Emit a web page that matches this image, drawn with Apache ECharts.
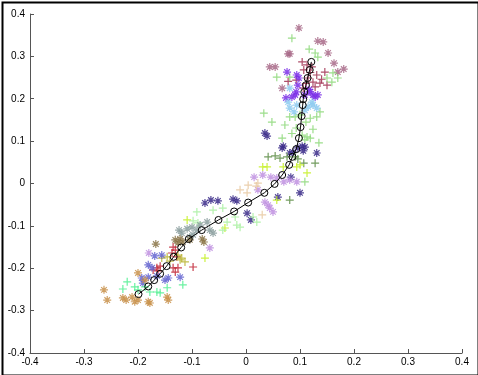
<!DOCTYPE html>
<html>
<head>
<meta charset="utf-8">
<script src="https://cdn.jsdelivr.net/npm/echarts@6/dist/echarts.min.js"></script>
<style>
html,body{margin:0;padding:0;background:#fff;}
#chart{width:478px;height:375px;}
</style>
</head>
<body>
<div id="chart"></div>
<script>
// axis ticks
const tickValues = [-0.4, -0.3, -0.2, -0.1, 0, 0.1, 0.2, 0.3, 0.4];

// mean trajectory (black line with circles)
const meanPath = [
  [0.121,0.287],[0.118,0.268],[0.114,0.249],[0.111,0.232],[0.108,0.216],[0.106,0.199],
  [0.105,0.185],[0.103,0.159],[0.101,0.133],[0.098,0.107],[0.093,0.081],[0.086,0.063],
  [0.080,0.044],[0.067,0.020],[0.053,-0.001],[0.034,-0.022],[0.004,-0.045],[-0.022,-0.066],
  [-0.051,-0.086],[-0.082,-0.110],[-0.106,-0.131],[-0.120,-0.151],[-0.134,-0.173],
  [-0.147,-0.195],[-0.159,-0.213],[-0.170,-0.228],[-0.181,-0.243],[-0.199,-0.261]
];

// individual observations, by group
const roseStar = [
  [0.098,0.367],[0.133,0.336],[0.143,0.334],[0.152,0.308],[0.078,0.306],[0.163,0.284],
  [0.181,0.270],[0.170,0.263],[0.044,0.275],[0.054,0.275],[0.067,0.225],[0.081,0.306]
];
const maroonPlus = [
  [0.104,0.287],[0.113,0.280],[0.122,0.275],[0.107,0.268],[0.131,0.256],[0.115,0.249],
  [0.124,0.239],[0.137,0.237],[0.150,0.232],[0.128,0.228],[0.106,0.225],[0.146,0.263],
  [0.093,0.244],[0.111,0.236],[0.078,0.241],[0.140,0.246],[0.119,0.262]
];
const lightGreenPlus = [
  [0.085,0.343],[0.117,0.317],[0.128,0.308],[0.133,0.298],[0.057,0.251],[0.081,0.251],
  [0.161,0.261],[0.170,0.249],[0.150,0.249],[0.159,0.239],[0.033,0.166],[0.048,0.145],
  [0.081,0.157],[0.091,0.157],[0.100,0.162],[0.119,0.154],[0.131,0.157],[0.137,0.169],
  [0.067,0.107],[0.104,0.114],[0.113,0.110],[0.109,0.103],[0.119,0.107],[0.135,0.096],
  [0.072,0.138],[0.093,0.131],[0.109,0.004],[0.085,0.118],[0.124,0.128],[0.111,0.145]
];
const violetStar = [
  [0.076,0.263],[0.094,0.256],[0.098,0.249],[0.096,0.232],[0.093,0.216],[0.119,0.216],
  [0.124,0.209],[0.128,0.204],[0.133,0.209],[0.091,0.209],[0.085,0.204],[0.074,0.202],
  [0.109,0.209],[0.117,0.222]
];
const skyBlueStar = [
  [0.081,0.225],[0.078,0.192],[0.081,0.178],[0.094,0.185],[0.124,0.185],[0.131,0.178],
  [0.122,0.192],[0.109,0.173],[0.089,0.169],[0.115,0.181]
];
const indigoStar = [
  [0.035,0.119],[0.039,0.112],[0.069,0.088],[0.067,0.084],[0.104,0.088],[0.109,0.086],
  [0.106,0.077],[0.096,0.084],[0.131,0.072],[0.087,0.074],[0.081,0.072],[0.083,0.015],
  [0.100,-0.022],[-0.024,-0.037],[-0.017,-0.041],[0.059,-0.032],[-0.076,-0.046],
  [-0.065,-0.039],[-0.052,-0.041],[0.002,-0.070],[0.009,-0.086]
];
const darkGreenPlus = [
  [0.041,0.063],[0.054,0.065],[0.063,0.060],[0.076,0.063],[0.091,0.063],[0.096,0.058],
  [0.107,0.048],[0.128,0.048],[0.081,-0.039]
];
const chartreusePlus = [
  [0.031,0.039],[0.039,0.039],[0.069,0.039],[0.094,0.039],[0.100,0.044],[0.113,0.025],
  [0.057,-0.039],[-0.109,-0.086],[-0.039,-0.105],[-0.076,-0.176]
];
const lavenderStar = [
  [0.015,0.015],[0.031,0.020],[0.046,0.015],[0.057,0.013],[0.070,0.004],[0.081,0.008],
  [0.094,0.004],[0.022,-0.015],[0.035,-0.044],[0.044,-0.058],[0.050,-0.067],[0.041,-0.051],
  [-0.180,-0.164],[-0.067,-0.152]
];
const tanPlus = [
  [0.004,-0.004],[0.022,0.001],[0.002,-0.022],[0.030,-0.074],[-0.011,-0.015],[0.019,-0.006]
];
const paleGreenPlus = [
  [-0.091,-0.067],[-0.061,-0.063],[-0.043,-0.058],[-0.017,-0.098],[-0.011,-0.103],
  [0.013,-0.079],[0.020,-0.091],[-0.098,-0.088],[-0.089,-0.093],[-0.043,-0.110],
  [-0.020,-0.079],[-0.035,-0.091]
];
const grayTealStar = [
  [-0.124,-0.110],[-0.119,-0.117],[-0.109,-0.107],[-0.100,-0.103],[-0.091,-0.110],
  [-0.085,-0.098],[-0.072,-0.091],[-0.067,-0.110],[-0.061,-0.117],[-0.098,-0.121],
  [-0.104,-0.126]
];
const oliveBrownStar = [
  [-0.131,-0.133],[-0.122,-0.131],[-0.117,-0.138],[-0.126,-0.140],[-0.081,-0.131],
  [-0.078,-0.138],[-0.167,-0.143],[-0.104,-0.133]
];
const crimsonPlus = [
  [-0.135,-0.150],[-0.131,-0.157],[-0.137,-0.164],[-0.128,-0.173],[-0.165,-0.199],
  [-0.163,-0.206],[-0.172,-0.204],[-0.159,-0.195],[-0.135,-0.199],[-0.126,-0.199],
  [-0.131,-0.209],[-0.098,-0.197]
];
const yellowOlivePlus = [
  [-0.156,-0.176],[-0.146,-0.173],[-0.126,-0.169],[-0.122,-0.180],[-0.119,-0.176],
  [-0.141,-0.183],[-0.113,-0.185]
];
const periwinkleStar = [
  [-0.169,-0.171],[-0.156,-0.169],[-0.181,-0.192],[-0.174,-0.199],[-0.193,-0.223],
  [-0.181,-0.221],[-0.165,-0.218],[-0.144,-0.223],[-0.150,-0.228],[-0.122,-0.221],
  [-0.191,-0.235]
];
const mintPlus = [
  [-0.228,-0.249],[-0.220,-0.232],[-0.206,-0.244],[-0.200,-0.251],[-0.178,-0.256],
  [-0.165,-0.256],[-0.159,-0.258],[-0.146,-0.246],[-0.117,-0.239],[-0.187,-0.244]
];
const orangeTanStar = [
  [-0.263,-0.251],[-0.257,-0.275],[-0.228,-0.270],[-0.222,-0.275],[-0.211,-0.268],
  [-0.206,-0.279],[-0.200,-0.275],[-0.181,-0.279],[-0.178,-0.282],[-0.146,-0.268],
  [-0.144,-0.275],[-0.200,-0.211],[-0.187,-0.228]
];

const PLUS = 'path://M0,5L10,5M5,0L5,10';
const STAR = 'path://M0,5L10,5M5,0L5,10M1.5,1.5L8.5,8.5M1.5,8.5L8.5,1.5';

const groups = [
  {data: roseStar, sym: STAR, color: '#a86a88'},
  {data: maroonPlus, sym: PLUS, color: '#a03050'},
  {data: lightGreenPlus, sym: PLUS, color: '#8cd878'},
  {data: violetStar, sym: STAR, color: '#7a2ee6'},
  {data: skyBlueStar, sym: STAR, color: '#8ccaf0'},
  {data: indigoStar, sym: STAR, color: '#3a2a88'},
  {data: darkGreenPlus, sym: PLUS, color: '#5c8c44'},
  {data: chartreusePlus, sym: PLUS, color: '#c4f020'},
  {data: lavenderStar, sym: STAR, color: '#c090e0'},
  {data: tanPlus, sym: PLUS, color: '#e8c8a0'},
  {data: paleGreenPlus, sym: PLUS, color: '#a8f0a0'},
  {data: grayTealStar, sym: STAR, color: '#8a9e9e'},
  {data: oliveBrownStar, sym: STAR, color: '#8a7446'},
  {data: crimsonPlus, sym: PLUS, color: '#c02030'},
  {data: yellowOlivePlus, sym: PLUS, color: '#b8b430'},
  {data: periwinkleStar, sym: STAR, color: '#6464d0'},
  {data: mintPlus, sym: PLUS, color: '#50ee90'},
  {data: orangeTanStar, sym: STAR, color: '#c8904a'}
];

const series = groups.map(g => ({
  type: 'scatter',
  data: g.data,
  symbol: g.sym,
  symbolSize: 8,
  silent: true,
  itemStyle: {color: 'rgba(0,0,0,0)', borderColor: g.color, borderWidth: 1.2, opacity: 0.85}
}));
series.push({
  type: 'line',
  data: meanPath,
  symbol: 'circle',
  symbolSize: 7,
  showSymbol: true,
  z: 10,
  silent: true,
  lineStyle: {color: '#000', width: 1},
  itemStyle: {color: 'rgba(255,255,255,0)', borderColor: '#000', borderWidth: 1}
});

const axisCommon = {
  type: 'value',
  min: tickValues[0],
  max: tickValues[tickValues.length - 1],
  interval: 0.1,
  splitLine: {show: false},
  axisLine: {show: true, onZero: false, lineStyle: {color: '#555', width: 1}},
  axisTick: {show: true, inside: true, length: 4, lineStyle: {color: '#555'}},
  axisLabel: {color: '#000', fontSize: 10, fontFamily: 'Liberation Sans, Arial, sans-serif'}
};

const chart = echarts.init(document.getElementById('chart'), null, {renderer: 'canvas'});
chart.setOption({
  animation: false,
  backgroundColor: '#fff',
  grid: {left: 30, right: 16, top: 14, bottom: 22, containLabel: false},
  xAxis: Object.assign({}, axisCommon, {axisLabel: Object.assign({}, axisCommon.axisLabel, {margin: 4})}),
  yAxis: Object.assign({}, axisCommon, {axisLabel: Object.assign({}, axisCommon.axisLabel, {margin: 5})}),
  graphic: [{
    type: 'rect', left: 0, top: 0, silent: true, z: 100,
    shape: {x: 1, y: 1, width: 476, height: 373},
    style: {fill: 'none', stroke: '#000', lineWidth: 2}
  }],
  series: series
});
</script>
</body>
</html>
